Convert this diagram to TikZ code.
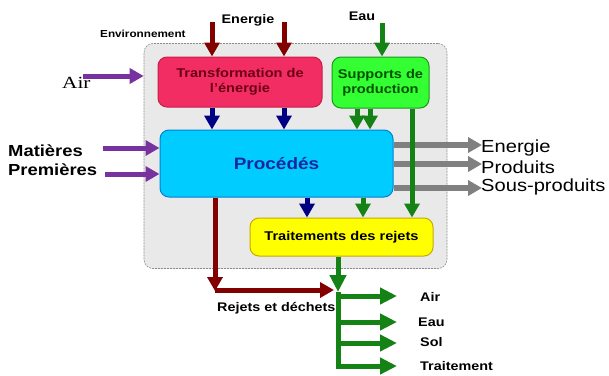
\documentclass[tikz,border=0pt]{standalone}
\usepackage{fontspec}
\setmainfont{Liberation Sans}[FakeStretch=1.15]
\newfontfamily\airserif{Liberation Serif}[FakeStretch=1.25]
\usetikzlibrary{arrows.meta}
\definecolor{envfill}{RGB}{233,233,233}
\definecolor{envdraw}{RGB}{140,140,140}
\definecolor{pinkfill}{RGB}{242,45,100}
\definecolor{pinkdraw}{RGB}{200,30,70}
\definecolor{pinktext}{RGB}{110,0,20}
\definecolor{grnfill}{RGB}{51,255,51}
\definecolor{grndraw}{RGB}{30,150,30}
\definecolor{grntext}{RGB}{0,80,0}
\definecolor{cyanfill}{RGB}{0,204,255}
\definecolor{cyandraw}{RGB}{0,130,210}
\definecolor{proctext}{RGB}{20,40,160}
\definecolor{yelfill}{RGB}{255,255,0}
\definecolor{yeldraw}{RGB}{200,170,0}
\definecolor{flowred}{RGB}{130,0,0}
\definecolor{flowblue}{RGB}{0,0,130}
\definecolor{flowgreen}{RGB}{20,130,20}
\definecolor{flowpurple}{RGB}{120,50,160}
\definecolor{flowgray}{RGB}{128,128,128}
\tikzset{
  envbox/.style={draw=envdraw, fill=envfill, dashed, dash pattern=on 2pt off 1pt,
    line width=0.6pt, rounded corners=9pt, inner sep=0pt},
  procbox/.style={rounded corners=9pt, line width=1pt, align=center, inner sep=0pt,
    font=\bfseries\fontsize{12.7}{15}\selectfont},
  flow/.style={line width=5pt, -{Triangle[width=15pt,length=14pt]}},
  bigflow/.style={line width=5pt, -{Triangle[width=16pt,length=17pt]}},
  smalllab/.style={inner sep=0pt, font=\bfseries\fontsize{12.5}{15}\selectfont},
  biglab/.style={inner sep=0pt, anchor=west, font=\fontsize{17.5}{20}\selectfont},
  leftlab/.style={inner sep=0pt, anchor=west, font=\bfseries\fontsize{16}{19}\selectfont}
}
\begin{document}
\begin{tikzpicture}[x=1pt,y=-1pt]
\useasboundingbox (0,0) rectangle (609,375);
% environment
\node[envbox, minimum width=303pt, minimum height=225pt] (env) at (295.5,156) {};
\node[inner sep=0pt, anchor=west, font=\bfseries\fontsize{10.2}{12}\selectfont] (envlab) at (100,34) {Environnement};
% boxes
\node[procbox, fill=pinkfill, draw=pinkdraw, text=pinktext, minimum width=164pt, minimum height=50pt] (trans) at (240,82) {Transformation de\\ l'énergie};
\node[procbox, fill=grnfill, draw=grndraw, text=grntext, minimum width=97pt, minimum height=51pt] (supp) at (380.5,82.5) {Supports de\\ production};
\node[procbox, fill=cyanfill, draw=cyandraw, text=proctext, minimum width=233pt, minimum height=67pt, font=\bfseries\fontsize{16.5}{19}\selectfont] (proc) at (276.5,163.5) {Procédés};
\node[procbox, fill=yelfill, draw=yeldraw, text=black, minimum width=183pt, minimum height=38pt] (trait) at (341.5,237) {Traitements des rejets};
% top labels
\node[smalllab] (enlab) at (248,20) {Energie};
\node[smalllab] (eaulab) at (362,16) {Eau};
% energy inputs
\coordinate (e1) at (212,22);
\coordinate (e2) at (284,22);
\draw[flow, flowred] (e1) -- (e1 |- trans.north);
\draw[flow, flowred] (e2) -- (e2 |- trans.north);
\draw[flow, flowblue] (trans.south -| e1) -- (proc.north -| e1);
\draw[flow, flowblue] (trans.south -| e2) -- (proc.north -| e2);
% water input
\coordinate (w1) at (382,23);
\draw[flow, flowgreen] (w1) -- (w1 |- supp.north);
\coordinate (s1) at (357,0);
\coordinate (s2) at (370,0);
\coordinate (s3) at (412,0);
% outputs (gray)
\coordinate (g1) at (482,145);
\coordinate (g2) at (482,164);
\coordinate (g3) at (482,188);
\draw[flow, flowgray, line width=5.5pt] (proc.east |- g1) -- (g1);
\draw[flow, flowgray, line width=5.5pt] (proc.east |- g2) -- (g2);
\draw[flow, flowgray, line width=5.5pt] (proc.east |- g3) -- (g3);
\node[biglab] (outen) at (481,148) {Energie};
\node[biglab] (outpr) at (481,167) {Produits};
\node[biglab] (outsp) at (481,187) {Sous-produits};
% supports to process and treatment
\draw[flow, flowgreen] (supp.south -| s1) -- (proc.north -| s1);
\draw[flow, flowgreen] (supp.south -| s2) -- (proc.north -| s2);
\draw[flow, flowgreen] (supp.south -| s3) -- (trait.north -| s3);
% air and raw materials
\node[inner sep=0pt, anchor=west, font=\airserif\fontsize{17}{20}\selectfont] (airlab) at (62,83) {Air};
\coordinate (a1) at (83,76);
\draw[flow, flowpurple] (a1) -- (env.west |- a1);
\node[leftlab] (mat) at (8,151) {Matières};
\node[leftlab] (prem) at (8,170) {Premières};
\coordinate (m1) at (103,148);
\coordinate (m2) at (105,174);
\draw[flow, flowpurple] (m1) -- (proc.west |- m1);
\draw[flow, flowpurple] (m2) -- (proc.west |- m2);
% process to treatment
\coordinate (p1) at (307,0);
\coordinate (p2) at (363,0);
\draw[flow, flowblue] (proc.south -| p1) -- (trait.north -| p1);
\draw[flow, flowgreen] (proc.south -| p2) -- (trait.north -| p2);
% wastes
\coordinate (rc) at (215,291);
\coordinate (re) at (334,290);
\draw[flow, flowred] (proc.south -| rc) -- (rc);
\draw[flow, flowred] (215,290) -- (re);
\node[smalllab, anchor=west] (rejlab) at (217,308) {Rejets et déchets};
% treated outputs
\coordinate (oc) at (338,292);
\coordinate (b1s) at (338,296);
\coordinate (b1e) at (397,296);
\coordinate (b2s) at (338,322);
\coordinate (b2e) at (397,322);
\coordinate (b3s) at (338,343);
\coordinate (b3e) at (397,343);
\coordinate (b4e) at (397,366);
\draw[bigflow, flowgreen] (trait.south -| oc) -- (oc);
\draw[bigflow, flowgreen] (oc) |- (b4e);
\draw[bigflow, flowgreen] (b1s) -- (b1e);
\draw[bigflow, flowgreen] (b2s) -- (b2e);
\draw[bigflow, flowgreen] (b3s) -- (b3e);
\node[smalllab, anchor=west] (lair) at (420,297) {Air};
\node[smalllab, anchor=west] (leau) at (418,322) {Eau};
\node[smalllab, anchor=west] (lsol) at (420,342) {Sol};
\node[smalllab, anchor=west] (ltr) at (420,366) {Traitement};
\end{tikzpicture}
\end{document}
